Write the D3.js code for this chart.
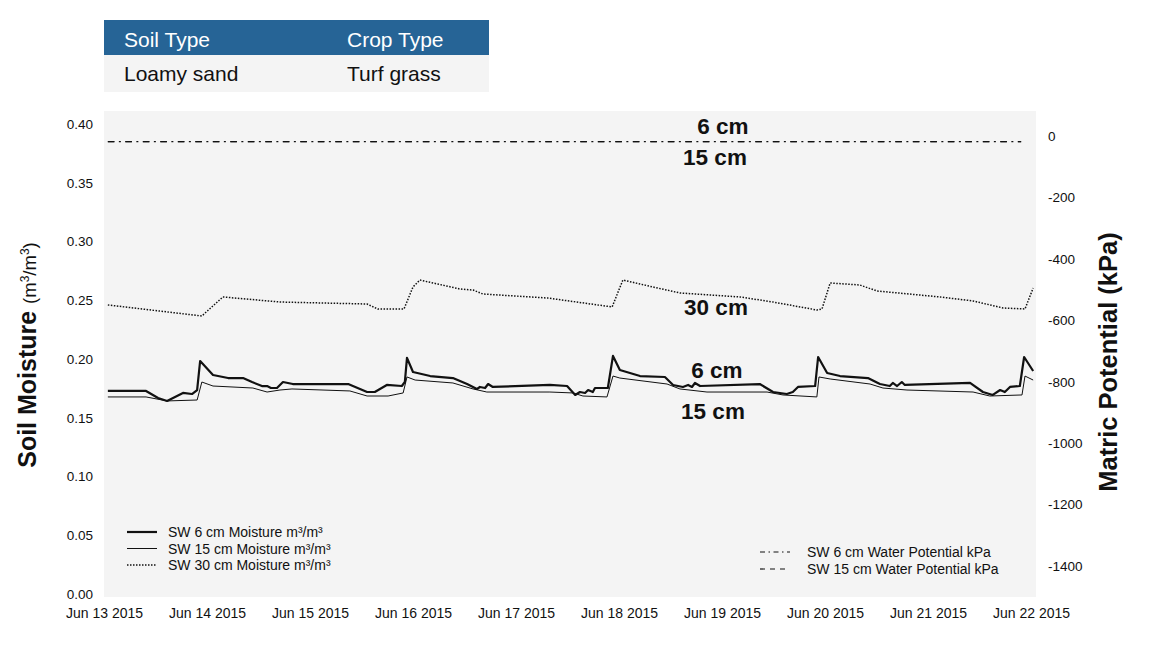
<!DOCTYPE html>
<html lang="en">
<head>
<meta charset="UTF-8">
<title>Soil Moisture and Matric Potential</title>
<script src="https://cdnjs.cloudflare.com/ajax/libs/d3/7.8.5/d3.min.js"></script>
<style>
  body { margin: 0; background: #fff; font-family: "Liberation Sans", Arial, sans-serif; }
  svg text { font-family: "Liberation Sans", Arial, sans-serif; }
</style>
</head>
<body>
<svg id="chart" width="1155" height="650"></svg>
<script>
// ---- data (hours after Jun 13 2015 00:00, value) ----
const startDate = new Date(2015, 5, 13);
const endDate = new Date(2015, 5, 22);

const sw6Moisture = [
  [0.9,0.1728],[9.8,0.1728],[12.6,0.1668],[14.7,0.1643],[18.4,0.1711],[20.5,0.1702],[21.7,0.1736],
  [22.4,0.1983],[25.4,0.1864],[28.9,0.1838],[32.4,0.1838],[34.5,0.1804],[36.8,0.1770],[38.0,0.1770],
  [38.9,0.1753],[40.3,0.1753],[41.7,0.1804],[44.0,0.1787],[56.9,0.1787],[61.3,0.1719],[63.1,0.1719],
  [65.9,0.1779],[69.4,0.1770],[70.1,0.1804],[70.6,0.2009],[72.0,0.1889],[76.0,0.1855],[81.3,0.1838],
  [84.6,0.1787],[86.9,0.1745],[87.6,0.1762],[88.8,0.1753],[89.5,0.1787],[90.6,0.1762],[103.9,0.1779],
  [107.9,0.1770],[109.8,0.1694],[110.9,0.1719],[112.1,0.1711],[112.8,0.1736],[113.9,0.1719],[114.4,0.1753],
  [117.4,0.1753],[118.6,0.2026],[120.2,0.1906],[124.9,0.1855],[130.7,0.1847],[132.6,0.1779],[134.9,0.1762],
  [136.1,0.1779],[137.0,0.1762],[137.7,0.1796],[138.9,0.1770],[152.8,0.1787],[155.9,0.1719],[159.1,0.1702],
  [160.5,0.1719],[161.7,0.1762],[165.7,0.1770],[166.4,0.2017],[168.5,0.1881],[171.5,0.1855],[178.0,0.1838],
  [180.8,0.1787],[183.1,0.1770],[183.8,0.1796],[184.8,0.1770],[185.9,0.1804],[186.6,0.1779],[201.8,0.1796],
  [204.8,0.1719],[207.1,0.1694],[208.8,0.1736],[209.9,0.1719],[211.1,0.1762],[213.4,0.1770],[214.4,0.2017],
  [215.3,0.1966],[216.5,0.1898]
];

const sw15Moisture = [
  [0.9,0.1677],[9.8,0.1677],[14.7,0.1643],[21.7,0.1651],[22.8,0.1804],[25.4,0.1770],[34.7,0.1753],
  [38.0,0.1719],[41.0,0.1736],[43.8,0.1745],[57.3,0.1728],[61.3,0.1685],[66.2,0.1685],[69.7,0.1711],
  [70.6,0.1847],[72.5,0.1821],[81.3,0.1796],[86.0,0.1745],[89.2,0.1719],[103.9,0.1719],[109.3,0.1711],
  [111.6,0.1685],[117.2,0.1677],[118.6,0.1855],[120.2,0.1838],[131.2,0.1787],[134.2,0.1745],[140.5,0.1719],
  [154.5,0.1719],[158.2,0.1694],[166.1,0.1677],[166.6,0.1847],[169.2,0.1830],[178.5,0.1787],[181.5,0.1753],
  [187.1,0.1736],[202.5,0.1719],[206.4,0.1685],[213.9,0.1694],[214.6,0.1855],[216.5,0.1821]
];

const sw30Moisture = [
  [0.9,0.2460],[22.8,0.2366],[27.7,0.2528],[41.0,0.2485],[61.3,0.2468],[63.8,0.2426],[69.9,0.2426],
  [72.0,0.2613],[73.6,0.2672],[82.9,0.2596],[86.0,0.2587],[88.3,0.2553],[103.4,0.2519],[118.4,0.2443],
  [120.9,0.2672],[127.9,0.2613],[134.2,0.2562],[148.2,0.2528],[155.9,0.2485],[166.1,0.2417],[167.3,0.2426],
  [169.2,0.2647],[176.1,0.2630],[180.1,0.2579],[194.8,0.2528],[202.5,0.2494],[209.5,0.2434],[214.6,0.2426],
  [216.5,0.2604]
];

const sw6Potential = [[0.9,-18],[72,-18],[144,-18],[213.7,-18]];
const sw15Potential = [[0.9,-18],[72,-18],[144,-18],[213.7,-18]];

const moistureTicks = [0, 0.05, 0.10, 0.15, 0.20, 0.25, 0.30, 0.35, 0.40];
const potentialTicks = [0, -200, -400, -600, -800, -1000, -1200, -1400];

const tableHeaders = ["Soil Type", "Crop Type"];
const tableValues = ["Loamy sand", "Turf grass"];

const moistureLegend = ["SW 6 cm Moisture m³/m³", "SW 15 cm Moisture m³/m³", "SW 30 cm Moisture m³/m³"];
const potentialLegend = ["SW 6 cm Water Potential kPa", "SW 15 cm Water Potential kPa"];

// ---- drawing ----
const svg = d3.select("#chart");
const plot = { left: 104, right: 1036, top: 111, bottom: 597 };

const toDate = h => new Date(startDate.getTime() + h * 3600 * 1000);

const x = d3.scaleTime().domain([startDate, endDate]).range([104, 1031]);
const yM = d3.scaleLinear().domain([0, 0.4]).range([594, 124]);
const yP = d3.scaleLinear().domain([-1400, 0]).range([566, 136]);

// header table
const colX = [124, 347];
svg.append("rect").attr("x", 104).attr("y", 20).attr("width", 385).attr("height", 35).attr("fill", "#266496");
svg.append("rect").attr("x", 104).attr("y", 55).attr("width", 385).attr("height", 37).attr("fill", "#f4f4f4");
svg.selectAll("text.th").data(tableHeaders).enter().append("text")
  .attr("class", "th").attr("x", (d, i) => colX[i]).attr("y", 47)
  .attr("font-size", 21).attr("fill", "#fff").text(d => d);
svg.selectAll("text.td").data(tableValues).enter().append("text")
  .attr("class", "td").attr("x", (d, i) => colX[i]).attr("y", 81)
  .attr("font-size", 21).attr("fill", "#111").text(d => d);

// plot background
svg.append("rect")
  .attr("x", plot.left).attr("y", plot.top)
  .attr("width", plot.right - plot.left).attr("height", plot.bottom - plot.top)
  .attr("fill", "#f4f4f4");

// axes
const xAxis = svg.append("g").attr("transform", `translate(0,${plot.bottom})`)
  .call(d3.axisBottom(x).ticks(d3.timeDay.every(1)).tickFormat(d3.timeFormat("%b %d %Y")).tickSize(0).tickPadding(11));
const yAxisL = svg.append("g").attr("transform", `translate(${plot.left},0)`)
  .call(d3.axisLeft(yM).tickValues(moistureTicks).tickFormat(d3.format(".2f")).tickSize(0).tickPadding(11));
const yAxisR = svg.append("g").attr("transform", `translate(${plot.right},0)`)
  .call(d3.axisRight(yP).tickValues(potentialTicks).tickFormat(d => String(d)).tickSize(0).tickPadding(12));

[xAxis, yAxisL, yAxisR].forEach(a => {
  a.select(".domain").remove();
  a.selectAll("text").attr("fill", "#111").attr("font-family", "Liberation Sans, Arial, sans-serif");
});
xAxis.selectAll("text").attr("font-size", 14);
yAxisL.selectAll("text").attr("font-size", 13.5);
yAxisR.selectAll("text").attr("font-size", 13.5);

// axis titles
const leftTitle = svg.append("text")
  .attr("transform", "translate(36,355) rotate(-90)")
  .attr("text-anchor", "middle").attr("fill", "#111");
leftTitle.append("tspan").attr("font-size", 25).attr("font-weight", "bold").text("Soil Moisture ");
leftTitle.append("tspan").attr("font-size", 18.5).text("(m");
leftTitle.append("tspan").attr("font-size", 12).attr("baseline-shift", "super").text("3");
leftTitle.append("tspan").attr("font-size", 18.5).text("/m");
leftTitle.append("tspan").attr("font-size", 12).attr("baseline-shift", "super").text("3");
leftTitle.append("tspan").attr("font-size", 18.5).text(")");

svg.append("text")
  .attr("transform", "translate(1117,362) rotate(-90)")
  .attr("text-anchor", "middle").attr("font-size", 25.5).attr("font-weight", "bold")
  .attr("fill", "#111").text("Matric Potential (kPa)");

// lines
const lineM = d3.line().x(d => x(toDate(d[0]))).y(d => yM(d[1]));
const lineP = d3.line().x(d => x(toDate(d[0]))).y(d => yP(d[1]));

const styles = {
  m6: { w: 2.2, dash: null },
  m15: { w: 1, dash: null },
  m30: { w: 1.5, dash: "1.5,1.5" },
  p6: { w: 1.3, dash: "6.5,4.5,2,4.5" },
  p15: { w: 1.3, dash: "6.5,11" }
};

function drawLine(data, gen, st) {
  svg.append("path").datum(data)
    .attr("d", gen).attr("fill", "none").attr("stroke", "#111")
    .attr("stroke-width", st.w).attr("stroke-linejoin", "round")
    .attr("stroke-dasharray", st.dash);
}
drawLine(sw30Moisture, lineM, styles.m30);
drawLine(sw15Moisture, lineM, styles.m15);
drawLine(sw6Moisture, lineM, styles.m6);
drawLine(sw15Potential, lineP, styles.p15);
drawLine(sw6Potential, lineP, styles.p6);

// inline annotations
const notes = [
  { t: "6 cm", x: 723, y: 134 },
  { t: "15 cm", x: 715, y: 165 },
  { t: "30 cm", x: 716, y: 315 },
  { t: "6 cm", x: 717, y: 378 },
  { t: "15 cm", x: 713, y: 419 }
];
svg.selectAll("text.note").data(notes).enter().append("text")
  .attr("class", "note").attr("x", d => d.x).attr("y", d => d.y)
  .attr("text-anchor", "middle").attr("font-size", 22.5).attr("font-weight", "bold")
  .attr("fill", "#111").text(d => d.t);

// legends
const legM = svg.append("g");
const mStyles = [styles.m6, styles.m15, styles.m30];
moistureLegend.forEach((label, i) => {
  const yy = 532 + i * 16.5;
  legM.append("line").attr("x1", 127).attr("x2", 157).attr("y1", yy).attr("y2", yy)
    .attr("stroke", "#111").attr("stroke-width", mStyles[i].w).attr("stroke-dasharray", mStyles[i].dash);
  legM.append("text").attr("x", 168).attr("y", yy + 5).attr("font-size", 14)
    .attr("fill", "#111").text(label);
});

const legP = svg.append("g");
const pLegendDash = ["5,3.5,1.5,3.5", "5,5"];
potentialLegend.forEach((label, i) => {
  const yy = 552 + i * 17;
  legP.append("line").attr("x1", 760).attr("x2", 790).attr("y1", yy).attr("y2", yy)
    .attr("stroke", "#111").attr("stroke-width", 1.2).attr("stroke-dasharray", pLegendDash[i]);
  legP.append("text").attr("x", 807).attr("y", yy + 5).attr("font-size", 14)
    .attr("fill", "#111").text(label);
});
</script>
</body>
</html>
